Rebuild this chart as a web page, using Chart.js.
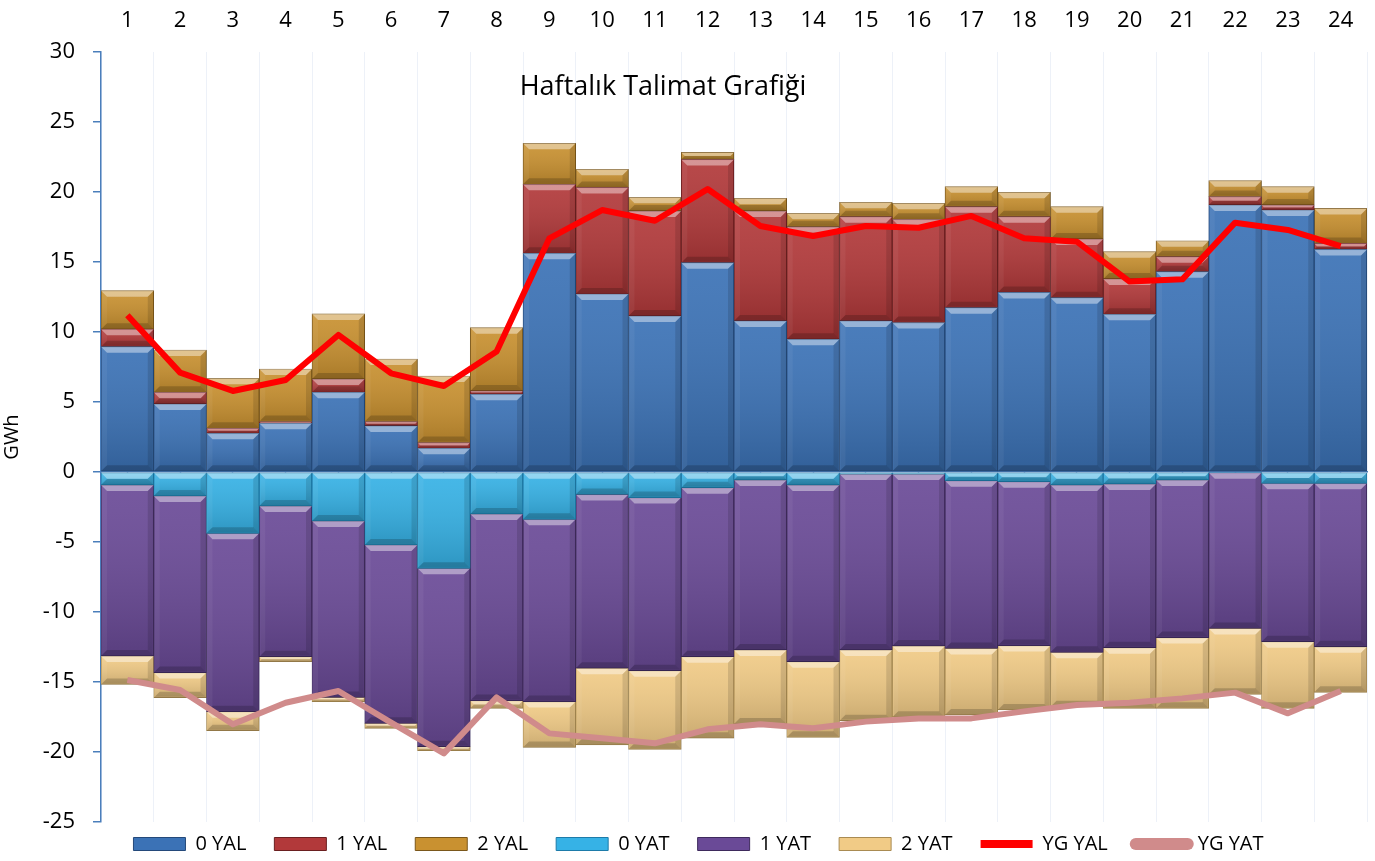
<!DOCTYPE html>
<html>
<head>
<meta charset="utf-8">
<script src="https://cdn.jsdelivr.net/npm/chart.js@4.4.1/dist/chart.umd.min.js"></script>
<style>
  html, body { margin: 0; padding: 0; background: #ffffff; overflow: hidden; }
  #wrap { width: 1375px; height: 861px; position: relative; }
  canvas { display: block; }
</style>
</head>
<body>
<div id="wrap"><canvas id="c" width="1375" height="861"></canvas></div>
<script>
const categories = ['1','2','3','4','5','6','7','8','9','10','11','12','13','14','15','16','17','18','19','20','21','22','23','24'];
const yTicks = [-25,-20,-15,-10,-5,0,5,10,15,20,25,30];
const chartTitle = 'Haftalık Talimat Grafiği';
const yTitle = 'GWh';

const yal0 = [8.95, 4.86, 2.76, 3.48, 5.69, 3.29, 1.69, 5.55, 15.62, 12.71, 11.14, 14.95, 10.79, 9.48, 10.79, 10.67, 11.74, 12.83, 12.45, 11.26, 14.31, 19.07, 18.71, 15.90];
const yal1 = [1.25, 0.83, 0.36, 0.12, 0.95, 0.31, 0.41, 0.24, 4.93, 7.62, 7.50, 7.38, 7.85, 8.04, 7.45, 7.38, 7.21, 5.41, 4.19, 2.53, 1.07, 0.60, 0.36, 0.43];
const yal2 = [2.75, 3.02, 3.57, 3.76, 4.65, 4.47, 4.76, 4.52, 2.93, 1.29, 0.98, 0.50, 0.91, 0.96, 1.02, 1.14, 1.43, 1.74, 2.31, 1.95, 1.14, 1.14, 1.31, 2.50];
const yat0 = [-0.93, -1.71, -4.38, -2.43, -3.50, -5.21, -6.88, -3.00, -3.38, -1.60, -1.83, -1.12, -0.57, -0.93, -0.15, -0.15, -0.62, -0.69, -0.93, -0.86, -0.57, -0.05, -0.81, -0.81];
const yat1 = [-12.21, -12.62, -12.74, -10.76, -12.60, -12.74, -12.74, -13.33, -13.02, -12.42, -12.36, -12.07, -12.14, -12.62, -12.56, -12.28, -11.98, -11.71, -11.95, -11.69, -11.26, -11.12, -11.31, -11.67];
const yat2 = [-2.03, -1.79, -1.36, -0.36, -0.30, -0.36, -0.28, -0.55, -3.27, -5.48, -5.62, -5.83, -5.29, -5.40, -5.05, -5.09, -4.76, -4.60, -3.88, -4.33, -5.05, -4.71, -4.76, -3.26];
const ygYal = [11.20, 7.10, 5.79, 6.57, 9.79, 7.05, 6.14, 8.60, 16.69, 18.71, 17.95, 20.21, 17.57, 16.86, 17.57, 17.45, 18.29, 16.69, 16.45, 13.60, 13.76, 17.81, 17.29, 16.14];
const ygYat = [-14.86, -15.57, -18.02, -16.48, -15.64, -17.90, -20.10, -16.10, -18.67, -19.02, -19.38, -18.38, -18.02, -18.31, -17.83, -17.60, -17.60, -17.10, -16.64, -16.48, -16.17, -15.76, -17.24, -15.64];

const FONT = "'Open Sans', 'Noto Sans', sans-serif";

function barDs(label, data, bg, border) {
  return {
    type: 'bar', label, data, backgroundColor: bg, borderColor: border,
    borderWidth: 1, borderSkipped: false, stack: 'bars', order: 1,
    barPercentage: 1.0, categoryPercentage: 1.0
  };
}
function lineDs(label, data, color, stack) {
  return {
    type: 'line', label, data, borderColor: color, backgroundColor: color,
    borderWidth: 6, pointRadius: 0, pointHoverRadius: 0, tension: 0,
    fill: false, stack, order: 0, borderJoinStyle: 'round', borderCapStyle: 'butt'
  };
}

const bevelPlugin = {
  id: 'bevel',
  afterDatasetDraw(chart, args) {
    const meta = args.meta;
    if (meta.type !== 'bar') return;
    const ctx = chart.ctx;
    ctx.save();
    meta.data.forEach(el => {
      const p = el.getProps(['x', 'y', 'base', 'width'], true);
      const l = p.x - p.width / 2, r = p.x + p.width / 2;
      const t = Math.min(p.y, p.base), b = Math.max(p.y, p.base);
      const h = b - t;
      if (h < 0.5) return;
      const s = Math.min(6, h / 2, p.width / 2);
      const g = ctx.createLinearGradient(0, t, 0, b);
      g.addColorStop(0, 'rgba(255,255,255,0.08)');
      g.addColorStop(1, 'rgba(0,0,0,0.16)');
      ctx.fillStyle = g;
      ctx.fillRect(l + 1, t + 1, r - l - 2, h - 2);
      const poly = (pts, col) => {
        ctx.beginPath();
        ctx.moveTo(pts[0][0], pts[0][1]);
        for (let i = 1; i < pts.length; i++) ctx.lineTo(pts[i][0], pts[i][1]);
        ctx.closePath();
        ctx.fillStyle = col;
        ctx.fill();
      };
      poly([[l, t], [r, t], [r - s, t + s], [l + s, t + s]], 'rgba(255,255,255,0.42)');
      poly([[l, b], [r, b], [r - s, b - s], [l + s, b - s]], 'rgba(0,0,0,0.18)');
      poly([[l, t], [l + s, t + s], [l + s, b - s], [l, b]], 'rgba(255,255,255,0.05)');
      poly([[r, t], [r - s, t + s], [r - s, b - s], [r, b]], 'rgba(0,0,0,0.12)');
    });
    ctx.restore();
  }
};

const titlePlugin = {
  id: 'innerTitle',
  afterDraw(chart) {
    const ctx = chart.ctx;
    const a = chart.chartArea;
    ctx.save();
    ctx.font = "27px " + FONT;
    ctx.fillStyle = '#000';
    ctx.textAlign = 'center';
    ctx.textBaseline = 'middle';
    ctx.fillText(chartTitle, a.left + 562, a.top + 35);
    ctx.restore();
  }
};

const legendShift = {
  id: 'legendShift',
  afterLayout(chart) {
    const lg = chart.legend;
    if (lg) {
      lg.top -= 16;
      lg.bottom = chart.height;
      lg.height = lg.bottom - lg.top;
      lg.left += 15;
      lg.right += 15;
    }
  }
};

const chart = new Chart(document.getElementById('c'), {
  data: {
    labels: categories,
    datasets: [
      barDs('0 YAL', yal0, '#3b72b6', '#24497a'),
      barDs('1 YAL', yal1, '#b2393a', '#6a1f20'),
      barDs('2 YAL', yal2, '#c99130', '#7a571b'),
      barDs('0 YAT', yat0, '#36b2e6', '#1d7ba9'),
      barDs('1 YAT', yat1, '#6a4a97', '#3e2a5c'),
      barDs('2 YAT', yat2, '#f1cb86', '#a98b52'),
      lineDs('YG YAL', ygYal, '#ff0000', 'l1'),
      lineDs('YG YAT', ygYat, '#d08b8b', 'l2')
    ]
  },
  options: {
    responsive: false,
    animation: false,
    layout: { padding: { left: 0, right: 8, top: 0, bottom: 0 } },
    plugins: {
      tooltip: { enabled: false },
      title: { display: false },
      legend: {
        position: 'bottom',
        maxHeight: 39,
        labels: {
          sort: (a, b) => a.datasetIndex - b.datasetIndex,
          font: { family: FONT, size: 20 },
          color: '#000',
          usePointStyle: true,
          pointStyleWidth: 52,
          boxHeight: 13,
          padding: 28,
          generateLabels(chart) {
            const items = Chart.defaults.plugins.legend.labels.generateLabels(chart);
            items.forEach(it => {
              const ds = chart.data.datasets[it.datasetIndex];
              if (ds.type === 'line') {
                it.pointStyle = 'line';
                it.strokeStyle = ds.borderColor;
                it.fillStyle = ds.borderColor;
                it.lineWidth = ds.label === 'YG YAT' ? 12 : 8;
                it.lineCap = ds.label === 'YG YAT' ? 'round' : 'butt';
              } else {
                it.pointStyle = 'rect';
                it.lineWidth = 1;
              }
            });
            return items;
          }
        }
      }
    },
    scales: {
      x: {
        position: 'top',
        stacked: true,
        offset: true,
        afterFit(scale) { scale.height = 52; },
        grid: { offset: true, color: '#edf1f8', lineWidth: 1, drawTicks: false },
        border: { display: false },
        ticks: { font: { family: FONT, size: 22 }, color: '#000', padding: 18, maxRotation: 0, autoSkip: false }
      },
      x2: {
        type: 'category',
        position: { y: 0 },
        offset: true,
        z: 1,
        grid: { offset: false, drawOnChartArea: false, drawTicks: true, tickLength: -6, tickColor: '#4a7ebb', tickWidth: 1.5 },
        border: { display: true, color: '#4a7ebb', width: 1.5 },
        ticks: { display: false, autoSkip: false }
      },
      y: {
        stacked: true,
        min: -25,
        max: 30,
        afterFit(scale) { scale.width = 101; },
        afterBuildTicks(scale) { scale.ticks = yTicks.map(v => ({ value: v })); },
        title: { display: true, text: yTitle, font: { family: FONT, size: 20 }, color: '#000', padding: { top: 0, bottom: 0 } },
        grid: {
          color: 'rgba(0,0,0,0)',
          tickColor: '#4a7ebb',
          tickLength: 8,
          lineWidth: 1.5
        },
        border: { color: '#4a7ebb', width: 1.5 },
        ticks: { font: { family: FONT, size: 22 }, color: '#000', padding: 18 }
      }
    }
  },
  plugins: [bevelPlugin, titlePlugin, legendShift]
});
</script>
</body>
</html>
